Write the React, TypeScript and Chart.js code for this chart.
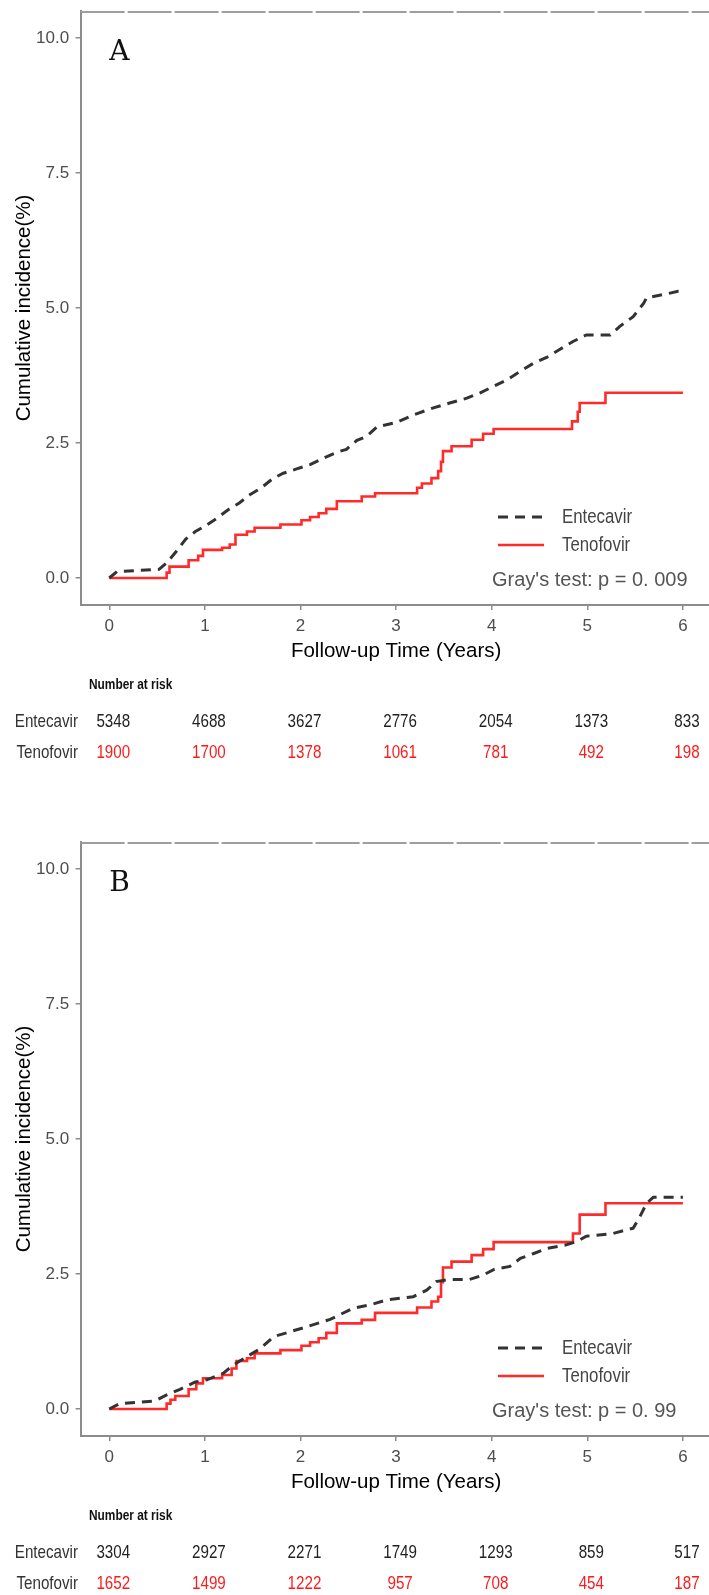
import React, { useEffect, useRef } from 'react';
import { Chart, registerables } from 'chart.js';

Chart.register(...registerables);

// ---------- data ----------
const seriesNames = ['Entecavir', 'Tenofovir'];
const xTickValues = [0, 1, 2, 3, 4, 5, 6];
const yTickValues = [0, 2.5, 5, 7.5, 10];
const riskTimes = [0, 1, 2, 3, 4, 5, 6];

// Panel A
const entecavirA_t = [0, 0.08, 0.52, 0.6, 0.7, 0.8, 0.9, 1.0, 1.12, 1.24, 1.36, 1.47, 1.59, 1.71, 1.82, 1.96, 2.1, 2.24, 2.38, 2.48, 2.59, 2.69, 2.8, 3.0, 3.18, 3.39, 3.56, 3.74, 3.88, 4.02, 4.16, 4.3, 4.44, 4.58, 4.71, 4.85, 4.99, 5.24, 5.34, 5.48, 5.59, 5.62, 5.8, 5.95, 6.0];
const entecavirA_y = [0, 0.12, 0.16, 0.28, 0.49, 0.72, 0.86, 0.96, 1.1, 1.26, 1.39, 1.54, 1.67, 1.84, 1.94, 2.02, 2.1, 2.22, 2.33, 2.38, 2.55, 2.62, 2.8, 2.88, 3.02, 3.15, 3.24, 3.33, 3.43, 3.55, 3.67, 3.83, 3.98, 4.09, 4.23, 4.38, 4.5, 4.5, 4.66, 4.84, 5.09, 5.19, 5.25, 5.31, 5.31];
const tenofovirA_t = [0, 0.6, 0.63, 0.83, 0.93, 0.98, 1.18, 1.26, 1.32, 1.44, 1.52, 1.79, 2.01, 2.1, 2.19, 2.27, 2.38, 2.64, 2.78, 3.22, 3.27, 3.37, 3.44, 3.47, 3.49, 3.58, 3.79, 3.91, 4.02, 4.84, 4.9, 4.92, 5.19, 6.0];
const tenofovirA_y = [0, 0.1, 0.21, 0.33, 0.41, 0.52, 0.56, 0.62, 0.8, 0.86, 0.93, 0.99, 1.07, 1.13, 1.2, 1.28, 1.42, 1.51, 1.57, 1.67, 1.75, 1.85, 1.98, 2.15, 2.35, 2.44, 2.56, 2.67, 2.76, 2.9, 3.08, 3.24, 3.43, 3.43];
const riskEntecavirA = [5348, 4688, 3627, 2776, 2054, 1373, 833];
const riskTenofovirA = [1900, 1700, 1378, 1061, 781, 492, 198];

// Panel B
const entecavirB_t = [0, 0.11, 0.48, 0.6, 0.74, 0.9, 1.02, 1.19, 1.3, 1.44, 1.58, 1.72, 1.89, 2.06, 2.31, 2.55, 2.73, 2.9, 3.18, 3.32, 3.42, 3.56, 3.77, 3.91, 4.03, 4.19, 4.3, 4.44, 4.58, 4.78, 4.89, 4.99, 5.27, 5.48, 5.55, 5.62, 5.69, 6.0];
const entecavirB_y = [0, 0.1, 0.15, 0.26, 0.365, 0.5, 0.54, 0.66, 0.815, 0.97, 1.12, 1.34, 1.43, 1.52, 1.66, 1.865, 1.93, 2.02, 2.08, 2.2, 2.36, 2.4, 2.4, 2.48, 2.59, 2.64, 2.79, 2.88, 2.975, 3.04, 3.1, 3.2, 3.25, 3.35, 3.56, 3.81, 3.92, 3.92];
const tenofovirB_t = [0, 0.6, 0.64, 0.69, 0.83, 0.91, 0.98, 1.18, 1.28, 1.33, 1.44, 1.52, 1.79, 2.01, 2.1, 2.19, 2.27, 2.38, 2.64, 2.78, 3.22, 3.37, 3.44, 3.47, 3.49, 3.58, 3.79, 3.91, 4.02, 4.85, 4.92, 5.19, 6.0];
const tenofovirB_y = [0, 0.1, 0.17, 0.24, 0.365, 0.475, 0.57, 0.63, 0.75, 0.89, 0.94, 1.03, 1.09, 1.17, 1.235, 1.31, 1.41, 1.585, 1.65, 1.78, 1.88, 1.99, 2.08, 2.35, 2.62, 2.73, 2.85, 2.96, 3.09, 3.25, 3.6, 3.81, 3.81];
const riskEntecavirB = [3304, 2927, 2271, 1749, 1293, 859, 517];
const riskTenofovirB = [1652, 1499, 1222, 957, 708, 454, 187];

const panelLetters = ['A', 'B'];
const grayTests = ["Gray's test: p = 0. 009", "Gray's test: p = 0. 99"];

// ---------- fonts ----------
function hasFont(name: string): boolean {
  const c = document.createElement('canvas').getContext('2d');
  if (!c) return false;
  const s = 'Entecavir 0123456789 Tenofovir';
  c.font = '40px monospace';
  const a = c.measureText(s).width;
  c.font = `40px "${name}", monospace`;
  const b = c.measureText(s).width;
  return Math.abs(a - b) > 0.5;
}
const HAS_NARROW = hasFont('Liberation Sans Narrow');
const SANS = '"Liberation Sans", Arial, sans-serif';
const NARROW_FAMILY = HAS_NARROW ? '"Liberation Sans Narrow", "Liberation Sans", sans-serif' : SANS;

function drawText(ctx: CanvasRenderingContext2D, text: string, x: number, y: number, o: { size: number; bold?: boolean; narrow?: boolean; align?: CanvasTextAlign; color: string }) {
  ctx.save();
  ctx.fillStyle = o.color;
  ctx.textAlign = o.align || 'left';
  ctx.textBaseline = 'middle';
  const weight = o.bold ? 'bold ' : '';
  if (o.narrow && !HAS_NARROW) {
    ctx.translate(x, y);
    ctx.scale(0.82, 1);
    ctx.font = `${weight}${o.size}px ${SANS}`;
    ctx.fillText(text, 0, 0);
  } else {
    ctx.font = `${weight}${o.size}px ${o.narrow ? NARROW_FAMILY : SANS}`;
    ctx.fillText(text, x, y);
  }
  ctx.restore();
}

const ENT_COLOR = '#333333';
const TEN_COLOR = '#ff2a2a';
const AXIS_COLOR = '#8c8c8c';
const TICK_TEXT = '#4d4d4d';

type Panel = {
  letter: string;
  gray: string;
  entT: number[]; entY: number[];
  tenT: number[]; tenY: number[];
  riskEnt: number[]; riskTen: number[];
};

const panels: Panel[] = [
  { letter: panelLetters[0], gray: grayTests[0], entT: entecavirA_t, entY: entecavirA_y, tenT: tenofovirA_t, tenY: tenofovirA_y, riskEnt: riskEntecavirA, riskTen: riskTenofovirA },
  { letter: panelLetters[1], gray: grayTests[1], entT: entecavirB_t, entY: entecavirB_y, tenT: tenofovirB_t, tenY: tenofovirB_y, riskEnt: riskEntecavirB, riskTen: riskTenofovirB },
];

const CANVAS_W = 720;
const CANVAS_H = 831;

function makeExtras(p: Panel) {
  return {
    id: 'panelExtras',
    afterDraw(chart: any) {
      const { ctx, chartArea: ca, scales } = chart;
      const xs = scales.x;
      const ys = scales.y;
      ctx.save();
      // top frame line (dashed grey)
      ctx.strokeStyle = '#9e9e9e';
      ctx.lineWidth = 2;
      ctx.setLineDash([44, 3]);
      ctx.beginPath();
      ctx.moveTo(ca.left, ca.top + 1);
      ctx.lineTo(chart.width, ca.top + 1);
      ctx.stroke();
      ctx.setLineDash([]);

      // panel letter
      ctx.fillStyle = '#111';
      ctx.font = '28px "DejaVu Serif", "Liberation Serif", serif';
      ctx.textAlign = 'left';
      ctx.textBaseline = 'middle';
      ctx.fillText(p.letter, xs.getPixelForValue(0), ys.getPixelForValue(9.72));

      // legend
      const rowsY = [517, 545];
      chart.data.datasets.forEach((ds: any, i: number) => {
        ctx.save();
        ctx.strokeStyle = ds.borderColor;
        ctx.lineWidth = ds.borderWidth;
        ctx.setLineDash(ds.borderDash || []);
        ctx.beginPath();
        ctx.moveTo(498, rowsY[i]);
        ctx.lineTo(544, rowsY[i]);
        ctx.stroke();
        ctx.restore();
        drawText(ctx, ds.label, 562, rowsY[i], { size: 20.5, narrow: true, color: '#444' });
      });
      drawText(ctx, p.gray, 492, 580, { size: 20, color: '#555' });

      // risk table
      drawText(ctx, 'Number at risk', 89, 685, { size: 14.5, bold: true, narrow: true, color: '#111' });
      const rowY = [722, 753];
      const counts = [p.riskEnt, p.riskTen];
      const colors = ['#222', '#ff1a1a'];
      seriesNames.forEach((name, r) => {
        drawText(ctx, name, 78, rowY[r], { size: 18.5, narrow: true, align: 'right', color: '#333' });
        riskTimes.forEach((t, k) => {
          drawText(ctx, String(counts[r][k]), xs.getPixelForValue(t) + 4, rowY[r], { size: 18.5, narrow: true, align: 'center', color: colors[r] });
        });
      });
      ctx.restore();
    },
  };
}

function makeConfig(p: Panel): any {
  const toPts = (t: number[], y: number[]) => t.map((v, i) => ({ x: v, y: y[i] }));
  const tickFont = { family: NARROW_FAMILY, size: HAS_NARROW ? 19.5 : 17 };
  return {
    type: 'line',
    data: {
      datasets: [
        { label: seriesNames[0], data: toPts(p.entT, p.entY), borderColor: ENT_COLOR, borderWidth: 3, borderDash: [10, 7], stepped: false, tension: 0, pointRadius: 0, fill: false },
        { label: seriesNames[1], data: toPts(p.tenT, p.tenY), borderColor: TEN_COLOR, borderWidth: 2.6, stepped: 'before', pointRadius: 0, fill: false },
      ],
    },
    options: {
      responsive: false,
      maintainAspectRatio: false,
      animation: false,
      devicePixelRatio: 1,
      layout: { padding: { left: 0, top: 11, right: CANVAS_W - 711.6, bottom: 0 } },
      plugins: { legend: { display: false }, tooltip: { enabled: false }, title: { display: false } },
      scales: {
        x: {
          type: 'linear', min: -0.3, max: 6.3,
          afterBuildTicks: (s: any) => { s.ticks = xTickValues.map((v) => ({ value: v })); },
          afterFit: (s: any) => { s.height = CANVAS_H - 605; s.paddingLeft = 0; s.paddingRight = 0; },
          grid: { display: true, drawOnChartArea: false, drawTicks: true, tickLength: 5, color: AXIS_COLOR, lineWidth: 1.5 },
          border: { display: true, color: AXIS_COLOR, width: 2 },
          ticks: { padding: 6, color: TICK_TEXT, font: tickFont, autoSkip: false, maxRotation: 0, callback: (v: any) => String(v) },
          title: { display: true, text: 'Follow-up Time (Years)', color: '#000', font: { family: SANS, size: 20.5 }, padding: { top: 0, bottom: CANVAS_H - 651 - 12.3 } },
        },
        y: {
          type: 'linear', min: -0.5, max: 10.5,
          afterBuildTicks: (s: any) => { s.ticks = yTickValues.map((v) => ({ value: v })); },
          afterFit: (s: any) => { s.width = 80.6; s.paddingTop = 0; s.paddingBottom = 0; },
          grid: { display: true, drawOnChartArea: false, drawTicks: true, tickLength: 5, color: AXIS_COLOR, lineWidth: 1.5 },
          border: { display: true, color: AXIS_COLOR, width: 2 },
          ticks: { padding: 6.5, color: TICK_TEXT, font: tickFont, autoSkip: false, callback: (v: any) => Number(v).toFixed(1) },
          title: { display: true, text: 'Cumulative incidence(%)', color: '#000', font: { family: SANS, size: 20.5 }, padding: { top: 12, bottom: 0 } },
        },
      },
    },
    plugins: [makeExtras(p)],
  };
}

export default function App() {
  const refA = useRef<HTMLCanvasElement | null>(null);
  const refB = useRef<HTMLCanvasElement | null>(null);
  useEffect(() => {
    const charts: Chart[] = [];
    if (refA.current) charts.push(new Chart(refA.current, makeConfig(panels[0])));
    if (refB.current) charts.push(new Chart(refB.current, makeConfig(panels[1])));
    return () => charts.forEach((c) => c.destroy());
  }, []);
  return (
    <div style={{ position: 'absolute', left: 0, top: 0, width: 709, height: 1595, overflow: 'hidden', background: '#fff' }}>
      <canvas ref={refA} width={CANVAS_W} height={CANVAS_H} style={{ position: 'absolute', left: 0, top: 0 }} />
      <canvas ref={refB} width={CANVAS_W} height={CANVAS_H} style={{ position: 'absolute', left: 0, top: 831 }} />
    </div>
  );
}
